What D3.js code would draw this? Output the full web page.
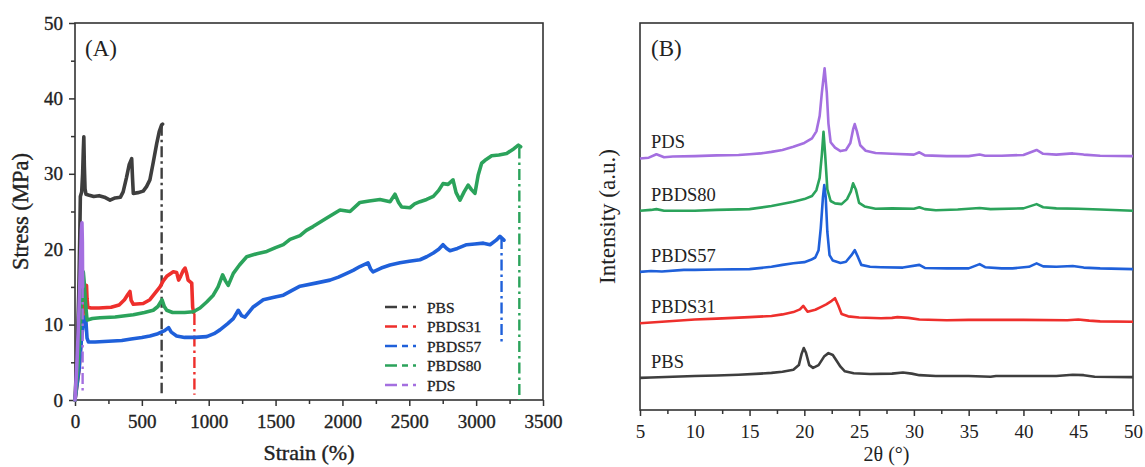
<!DOCTYPE html>
<html>
<head>
<meta charset="utf-8">
<script src="https://cdn.jsdelivr.net/npm/d3@7"></script>
<style>
  html, body { margin: 0; padding: 0; background: #fff; }
  svg { display: block; }
  text { font-family: "Liberation Serif", "Times New Roman", serif; fill: #222; }
</style>
</head>
<body>
<svg id="chart" width="1145" height="467"></svg>
<script>
// ---- Panel A: stress–strain curves (strain %, stress MPa) ----
const seriesNames = ["PBS", "PBDS31", "PBDS57", "PBDS80", "PDS"];
const seriesColors = ["#3e3e3e", "#ee2f2c", "#1f60da", "#2ba35b", "#a46fe0"];

const pbsStress = [[0,0],[15,6],[28,14],[36,22],[40,27],[50,27.6],[57,30],[62,33],[66,34.9],[70,31],[75,28],[82,27.3],[100,27.2],[140,27.0],[180,27.1],[220,26.9],[262,26.5],[300,26.8],[340,26.9],[360,27.6],[385,29.5],[405,31.2],[424,32.0],[430,29.5],[436,27.4],[470,27.5],[510,27.7],[535,28.3],[560,29.2],[585,31.5],[611,34.0],[630,35.6],[648,36.5],[655,36.6]];
const pbds31Stress = [[0,0],[30,4],[50,9],[65,12.5],[78,14.5],[86,15.2],[90,13.4],[96,12.3],[120,12.2],[180,12.2],[270,12.3],[330,12.6],[370,13.3],[395,14.0],[411,14.4],[420,13.2],[436,12.7],[510,12.8],[560,13.3],[600,14.2],[636,15.0],[660,15.8],[686,16.4],[735,17.0],[760,16.9],[775,15.9],[790,16.4],[810,17.2],[823,17.5],[835,16.8],[846,15.9],[873,15.5],[880,12.3],[888,11.6]];
const pbds57Stress = [[0,0],[30,4],[48,8],[62,10.3],[72,11.0],[82,10.4],[90,8.2],[100,7.7],[150,7.7],[250,7.8],[350,7.9],[420,8.1],[500,8.3],[560,8.5],[620,8.8],[670,9.2],[700,9.6],[720,9.0],[760,8.5],[820,8.3],[900,8.3],[985,8.4],[1040,8.8],[1084,9.3],[1140,10.1],[1184,10.8],[1221,11.9],[1245,11.2],[1271,11.0],[1330,12.3],[1408,13.3],[1480,13.6],[1558,13.9],[1620,14.5],[1683,15.1],[1800,15.5],[1907,15.9],[1970,16.3],[2032,16.8],[2080,17.2],[2131,17.7],[2191,18.2],[2210,17.4],[2229,17.0],[2290,17.5],[2356,17.9],[2430,18.2],[2500,18.4],[2580,18.6],[2630,19.0],[2680,19.5],[2720,20.0],[2752,20.6],[2780,20.1],[2804,19.8],[2860,20.1],[2929,20.6],[2990,20.7],[3054,20.8],[3104,20.6],[3150,21.2],[3178,21.7],[3208,21.2]];
const pbds80Stress = [[0,0],[25,5],[42,11],[55,15.5],[62,17.0],[68,15.8],[78,13],[88,11],[93,10.6],[130,10.8],[187,10.9],[300,11.0],[436,11.3],[520,11.6],[585,11.9],[620,12.4],[651,13.3],[668,12.4],[686,11.9],[730,11.6],[760,11.6],[820,11.6],[885,11.7],[935,12.2],[985,13.0],[1034,13.9],[1070,15.0],[1104,16.6],[1125,15.8],[1146,15.2],[1184,16.8],[1230,17.9],[1284,19.0],[1360,19.4],[1434,19.7],[1500,20.2],[1558,20.6],[1608,21.3],[1683,21.8],[1730,22.5],[1780,23.0],[1880,24.1],[1982,25.2],[2057,25.0],[2131,26.2],[2200,26.4],[2281,26.6],[2356,26.3],[2393,27.3],[2420,26.2],[2443,25.6],[2505,25.5],[2540,26.0],[2580,26.3],[2630,26.6],[2680,27.0],[2720,27.8],[2752,28.7],[2790,28.6],[2827,29.2],[2850,27.5],[2879,26.5],[2910,27.6],[2940,28.5],[2965,27.9],[2991,27.4],[3015,29.8],[3041,31.4],[3075,31.9],[3116,32.4],[3170,32.5],[3228,32.7],[3280,33.3],[3316,33.8],[3333,33.6]];
const pdsStress = [[0,0],[12,4],[24,9],[34,14],[42,19],[48,22.5],[52,23.5],[55,21],[57,15]];

// vertical drop at break: [strain, stress from, stress to]
const breakDrops = [[648,36.5,0.9],[893,11.4,0.7],[3190,21.5,7.7],[3323,33.5,0],[57,15,1.0]];

const strainTicks = [0,500,1000,1500,2000,2500,3000,3500];
const stressTicks = [0,10,20,30,40,50];

// ---- Panel B: XRD patterns (2θ in degrees, stacked intensity a.u.) ----
const pbsXrd = [[5,8.3],[6,8.4],[8,8.6],[10,8.8],[12,8.9],[14,9.1],[16,9.4],[17,9.6],[18,9.9],[19,10.4],[19.5,11.6],[19.75,14.5],[19.95,16.0],[20.15,14.8],[20.45,11.6],[20.8,10.9],[21.3,11.6],[21.8,13.8],[22.2,14.7],[22.6,14.2],[22.9,12.9],[23.3,11.2],[23.7,10.0],[24.5,9.5],[26,9.3],[28,9.4],[29,9.7],[29.8,9.4],[30.5,9.0],[32,8.8],[35,8.8],[37,8.6],[37.5,8.8],[40,8.8],[43,8.8],[44.5,9.1],[45.5,9.0],[46.5,8.6],[50,8.5]];
const pbds31Xrd = [[5,22.4],[6,22.6],[7,22.8],[8,23.0],[10,23.4],[12,23.6],[15,24.0],[17,24.3],[18,24.7],[19,25.3],[19.6,26.0],[19.9,26.9],[20.3,25.4],[21,25.9],[21.5,26.6],[22,27.3],[22.5,28.2],[22.8,28.9],[23.1,27.0],[23.4,24.8],[24,24.2],[25,23.9],[27,23.7],[28,23.8],[28.5,24.0],[29.5,23.8],[30.5,23.4],[33,23.2],[35,23.3],[40,23.3],[44,23.2],[45,23.4],[46,23.1],[47,22.9],[50,22.8]];
const pbds57Xrd = [[5,35.7],[6,35.9],[7,35.8],[9,36.2],[10,36.2],[12,36.3],[15,36.4],[17,37.0],[18,37.5],[19,37.9],[20,38.2],[20.6,38.8],[21,39.4],[21.3,41.3],[21.5,47],[21.7,55],[21.82,58.1],[21.95,55],[22.1,46],[22.3,40],[22.6,38.6],[23.3,38.0],[23.8,38.3],[24.3,40.0],[24.6,41.3],[24.9,39.5],[25.2,37.5],[26,37.0],[27,36.9],[29,36.8],[30.5,37.5],[31,36.7],[33,36.6],[35,36.6],[36,37.7],[36.5,36.9],[38,36.6],[39,36.6],[40.5,37.0],[41.2,37.9],[41.8,37.1],[43,37.0],[44.5,37.2],[45.5,36.8],[47,36.6],[50,36.4]];
const pbds80Xrd = [[5,51.5],[6,51.7],[6.5,51.9],[7.2,51.5],[10,51.5],[12,51.7],[15,51.9],[17,52.7],[19,53.8],[20,54.5],[20.7,55.3],[21.1,56.8],[21.4,60],[21.6,66],[21.75,71.9],[21.9,66],[22.1,57],[22.4,54],[22.8,53.4],[23.4,53.2],[23.9,54.5],[24.25,56.5],[24.45,58.6],[24.7,57],[25.0,53.5],[25.5,52.6],[26.5,52.0],[28,52.1],[30,52.0],[30.5,52.4],[31,51.9],[32,51.6],[34,51.8],[35,52.0],[36,52.2],[37,51.9],[40,52.1],[41.2,53.2],[41.8,52.4],[43,52.1],[45,52.0],[47,51.8],[50,51.5]];
const pdsXrd = [[5,65.0],[5.8,65.2],[6.5,66.1],[7.2,65.3],[8,65.5],[10,65.6],[12,65.8],[14,65.9],[15,66.1],[16,66.3],[17,66.7],[18,67.2],[19,68.0],[20,69.0],[20.7,70.2],[21.1,72],[21.4,76],[21.6,82],[21.85,88.3],[22.05,82],[22.2,74],[22.4,69.2],[22.8,67.8],[23.3,66.9],[23.8,67.2],[24.2,69],[24.45,72.5],[24.6,73.9],[24.8,72],[25.1,68.4],[25.6,67.0],[26.5,66.4],[28,66.2],[30,66.0],[30.5,66.6],[31,65.8],[33,65.6],[35,65.6],[36,66.0],[36.5,65.7],[38,65.7],[40,65.9],[41.2,67.2],[41.8,66.2],[43,66.0],[44.5,66.3],[45.5,66.0],[47,65.7],[50,65.6]];

const twoThetaTicks = [5,10,15,20,25,30,35,40,45,50];

const svg = d3.select("#chart");
const axisColor = "#333";

// ---------- helpers ----------
function styleAxis(g) {
  g.select(".domain").remove();
  g.selectAll(".tick line").attr("stroke", axisColor).attr("stroke-width", 1.5);
  g.selectAll(".tick text").attr("font-size", 19).attr("fill", "#222")
    .style("font-family", "'Liberation Serif', serif");
}
function frame(x0, x1, y0, y1) {
  svg.append("rect").attr("x", x0).attr("y", y0).attr("width", x1 - x0).attr("height", y1 - y0)
    .attr("fill", "none").attr("stroke", axisColor).attr("stroke-width", 1.6);
}

// ---------- Panel A ----------
const xA = d3.scaleLinear().domain([0, 3500]).range([75, 543]);
const yA = d3.scaleLinear().domain([0, 50]).range([400, 23]);

const gAx = svg.append("g").attr("transform", `translate(0,${yA(0)})`)
  .call(d3.axisBottom(xA).tickValues(strainTicks).tickSize(6).tickSizeOuter(0).tickPadding(9).tickFormat(d3.format("d")));
styleAxis(gAx);
const gAxm = svg.append("g").attr("transform", `translate(0,${yA(0)})`)
  .call(d3.axisBottom(xA).tickValues(d3.range(250, 3500, 500)).tickSize(4).tickFormat(""));
styleAxis(gAxm);
const gAy = svg.append("g").attr("transform", `translate(${xA(0)},0)`)
  .call(d3.axisLeft(yA).tickValues(stressTicks).tickSize(6).tickSizeOuter(0).tickPadding(6));
styleAxis(gAy);
const gAym = svg.append("g").attr("transform", `translate(${xA(0)},0)`)
  .call(d3.axisLeft(yA).tickValues(d3.range(5, 50, 10)).tickSize(4).tickFormat(""));
styleAxis(gAym);
// slightly heavier numerals on the stress–strain axes
[gAx, gAy].forEach(g => g.selectAll(".tick text").attr("stroke", "#222").attr("stroke-width", 0.35));
frame(xA(0), xA(3500), yA(50), yA(0));

const lineA = d3.line().x(d => xA(d[0])).y(d => yA(d[1]));
const stressData = [pbsStress, pbds31Stress, pbds57Stress, pbds80Stress, pdsStress];

const curvesA = svg.append("g");
stressData.forEach((s, i) => {
  const b = breakDrops[i];
  curvesA.append("line")
    .attr("x1", xA(b[0])).attr("x2", xA(b[0]))
    .attr("y1", yA(b[1])).attr("y2", yA(b[2]))
    .attr("stroke", seriesColors[i]).attr("stroke-width", 2.4)
    .attr("stroke-dasharray", "11,4,2.5,4");
  curvesA.append("path").datum(s)
    .attr("d", lineA)
    .attr("fill", "none").attr("stroke", seriesColors[i])
    .attr("stroke-width", 3.6).attr("stroke-linejoin", "round").attr("stroke-linecap", "round");
});

// legend
const legend = svg.append("g");
seriesNames.forEach((n, i) => {
  const ly = 307 + i * 19.5;
  legend.append("line").attr("x1", 385).attr("x2", 423).attr("y1", ly).attr("y2", ly)
    .attr("stroke", seriesColors[i]).attr("stroke-width", 2.6)
    .attr("stroke-dasharray", "12,5,6,5,3,20");
  legend.append("text").attr("x", 427).attr("y", ly + 5.5).attr("font-size", 15.5)
    .attr("stroke", "#222").attr("stroke-width", 0.3).text(n);
});

svg.append("text").attr("x", 85).attr("y", 56).attr("font-size", 23).text("(A)");
svg.append("text").attr("x", (xA(0) + xA(3500)) / 2).attr("y", 460).attr("text-anchor", "middle")
  .attr("font-size", 22).attr("stroke", "#222").attr("stroke-width", 0.4).text("Strain (%)");
svg.append("text").attr("transform", `translate(28,${(yA(0) + yA(50)) / 2}) rotate(-90)`)
  .attr("text-anchor", "middle").attr("font-size", 22.5).attr("stroke", "#222").attr("stroke-width", 0.4)
  .text("Stress (MPa)");

// ---------- Panel B ----------
const xB = d3.scaleLinear().domain([5, 50]).range([640, 1133]);
const yB = d3.scaleLinear().domain([0, 100]).range([410, 23]);

const gBx = svg.append("g").attr("transform", `translate(0,${yB(0)})`)
  .call(d3.axisBottom(xB).tickValues(twoThetaTicks).tickSize(6).tickSizeOuter(0).tickPadding(9));
styleAxis(gBx);
const gBxm = svg.append("g").attr("transform", `translate(0,${yB(0)})`)
  .call(d3.axisBottom(xB).tickValues(d3.range(7.5, 50, 5)).tickSize(4).tickFormat(""));
styleAxis(gBxm);
frame(xB(5), xB(50), yB(100), yB(0));

const lineB = d3.line().x(d => xB(d[0])).y(d => yB(d[1]));
const xrdData = [pbsXrd, pbds31Xrd, pbds57Xrd, pbds80Xrd, pdsXrd];
xrdData.forEach((s, i) => {
  svg.append("path").datum(s).attr("d", lineB)
    .attr("fill", "none").attr("stroke", seriesColors[i])
    .attr("stroke-width", 2.6).attr("stroke-linejoin", "round");
  svg.append("text").attr("x", 651).attr("y", yB(s[0][1]) - 10)
    .attr("font-size", 18.5).text(seriesNames[i]);
});

svg.append("text").attr("x", 651).attr("y", 56).attr("font-size", 23).text("(B)");
svg.append("text").attr("x", (xB(5) + xB(50)) / 2).attr("y", 461).attr("text-anchor", "middle")
  .attr("font-size", 20).text("2θ (°)");
svg.append("text").attr("transform", `translate(615,${(yB(0) + yB(100)) / 2}) rotate(-90)`)
  .attr("text-anchor", "middle").attr("font-size", 23).text("Intensity (a.u.)");
</script>
</body>
</html>
